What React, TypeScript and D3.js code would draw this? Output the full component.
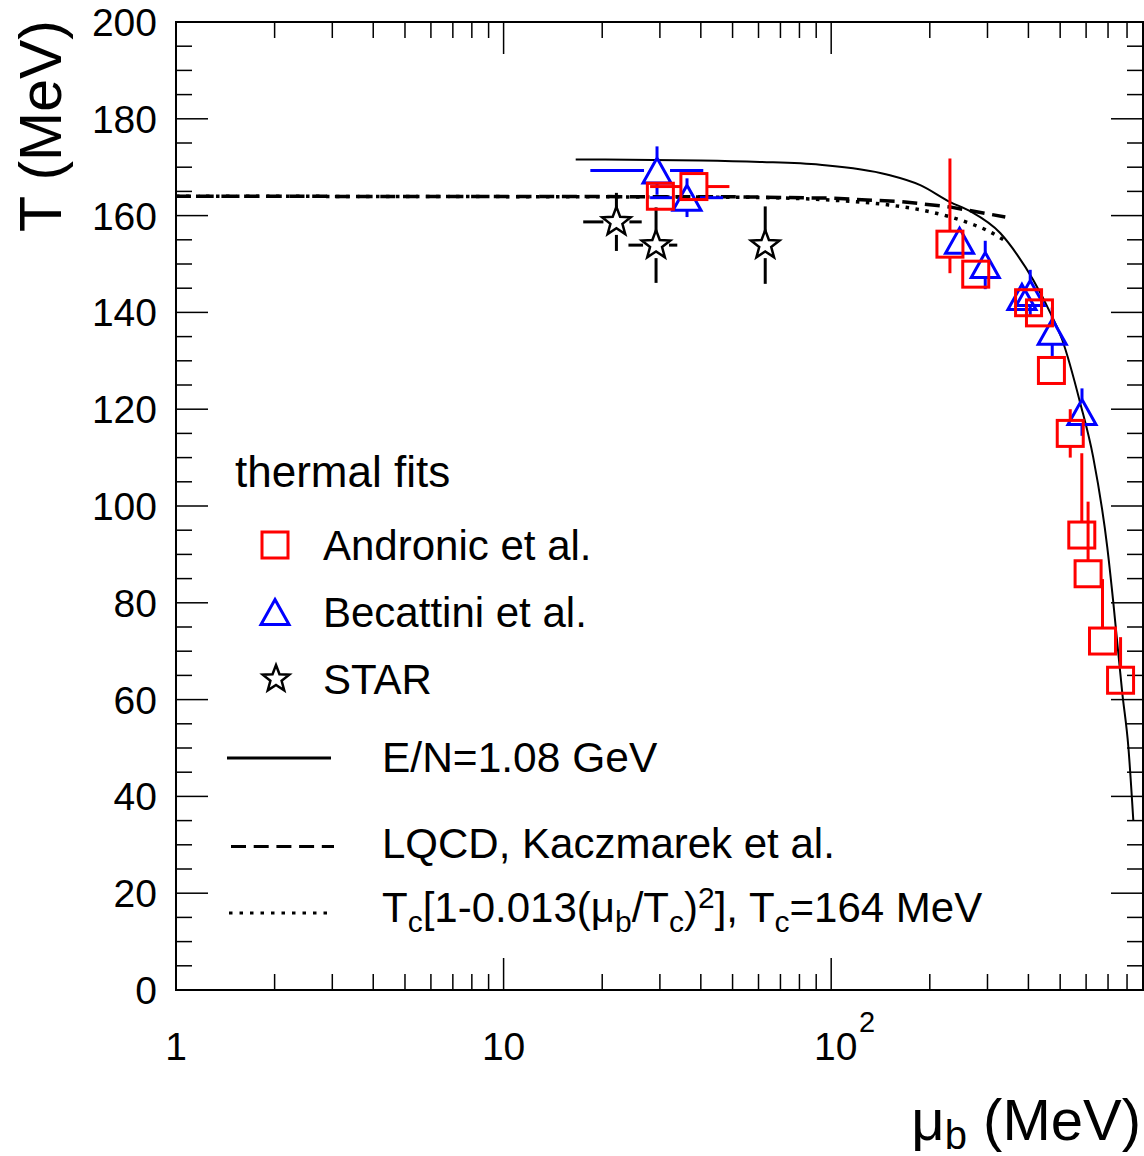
import React from "react";
import * as d3 from "d3";

// ---------- data ----------
const andronicMu = [30.1, 38.1, 230.4, 276.2, 400.4, 432.3, 470.2, 536.7, 582.1, 608.4, 673.3, 764.4];
const andronicT = [164.0, 166.0, 154.1, 147.9, 142.0, 139.9, 128.0, 115.0, 94.0, 86.0, 72.1, 64.0];
const andronicTErrLo = [0, 0, 6.0, 0, 0, 0, 0, 5, 0, 0, 0, 0];
const andronicTErrHi = [0, 0, 17.7, 0, 0, 0, 0, 5, 16.9, 14.9, 12.8, 8.9];
const andronicMuLo = [null, 28.0, null, null, null, null, null, null, null, null, null, null];
const andronicMuHi = [null, 48.9, null, null, null, null, null, null, null, null, null, null];

const becattiniMu = [29.4, 36.3, 246.5, 295.3, 382.2, 405.1, 472.9, 582.9];
const becattiniT = [169.3, 163.7, 154.8, 149.8, 143.2, 144.0, 136.0, 119.4];
const becattiniTErr = [5, 4, 0, 5, 0, 4.8, 5, 4.9];
const becattiniMuLo = [18.4, 28.0, null, null, null, null, null, null];
const becattiniMuHi = [40.7, 46.8, null, null, null, null, null, null];

const starMu = [22.1, 29.2, 62.9];
const starT = [158.7, 153.9, 153.9];
const starTErr = [6, 7.8, 8];
const starMuLo = [17.5, 24.05, null];
const starMuHi = [26.4, 33.9, null];

const solidMu = [16.6, 40, 60.7, 92.5, 147.9, 187, 230.9, 265.7, 328, 369.8, 413.8, 466.6, 507.5, 575.6, 630.6, 696.2, 726.6, 773.6, 807.5, 836];
const solidT = [171.6, 171.4, 171.1, 170.5, 168.5, 166.3, 162.8, 160.9, 156.4, 151.9, 146.7, 139.9, 134.3, 121.3, 110.1, 91.5, 80, 61.4, 50.2, 35.1];

const lqcdMu = [1, 50, 100, 163, 230, 340];
const lqcdT = [164, 163.9, 163.6, 162.9, 161.8, 159.7];

const dottedMu = [1, 50, 100, 150, 200, 250, 300, 340];
const dottedT = [164, 163.8, 163.2, 162.2, 160.8, 159.0, 156.9, 154.8];

const yMajorTicks = [0, 20, 40, 60, 80, 100, 120, 140, 160, 180, 200];
const xMajorTicks = [1, 10, 100];

// ---------- layout ----------
const W = 1144, H = 1156;
const L = 176, R = 1143, T = 22, B = 990;
const x = d3.scaleLog().domain([1, 895]).range([L, R]);
const y = d3.scaleLinear().domain([0, 200]).range([B, T]);
const FONT = "Liberation Sans, Arial, Helvetica, sans-serif";
const MS = 13; // half marker size

function starPath(cx: number, cy: number, ro: number, ri: number) {
  const pts: string[] = [];
  for (let i = 0; i < 10; i++) {
    const r = i % 2 === 0 ? ro : ri;
    const a = -Math.PI / 2 + (i * Math.PI) / 5;
    pts.push(`${cx + r * Math.cos(a)},${cy + r * Math.sin(a)}`);
  }
  return "M" + pts.join("L") + "Z";
}

function triPath(cx: number, cy: number) {
  return `M${cx},${cy - 12.5}L${cx + 14},${cy + 12.5}L${cx - 14},${cy + 12.5}Z`;
}

function ErrBars(props: { mu: number; t: number; lo: number; hi: number; mlo: number | null; mhi: number | null; color: string; gap: number }) {
  const { mu, t, lo, hi, mlo, mhi, color, gap } = props;
  const cx = x(mu), cy = y(t);
  const segs: any[] = [];
  if (hi > 0 && cy - y(t + hi) > gap) segs.push(<line key="h" x1={cx} x2={cx} y1={cy - gap} y2={y(t + hi)} />);
  if (lo > 0 && y(t - lo) - cy > gap) segs.push(<line key="l" x1={cx} x2={cx} y1={cy + gap} y2={y(t - lo)} />);
  if (mlo != null && cx - x(mlo) > gap) segs.push(<line key="ml" x1={cx - gap} x2={x(mlo)} y1={cy} y2={cy} />);
  if (mhi != null && x(mhi) - cx > gap) segs.push(<line key="mh" x1={cx + gap} x2={x(mhi)} y1={cy} y2={cy} />);
  return <g stroke={color} strokeWidth={3}>{segs}</g>;
}

export default function App() {
  const lineGen = d3.line<[number, number]>().x((d) => x(d[0])).y((d) => y(d[1]));
  const smoothGen = d3.line<[number, number]>().x((d) => x(d[0])).y((d) => y(d[1])).curve(d3.curveMonotoneX);
  const solidPath = smoothGen(solidMu.map((m, i) => [m, solidT[i]]))!;
  const lqcdPath = lineGen(lqcdMu.map((m, i) => [m, lqcdT[i]]))!;
  const dottedPath = smoothGen(dottedMu.map((m, i) => [m, dottedT[i]]))!;

  const yMinor = d3.range(0, 201, 5).filter((v) => v % 20 !== 0);
  const xMinor: number[] = [];
  [1, 10, 100].forEach((d) => {
    for (let k = 2; k <= 9; k++) if (k * d < 895) xMinor.push(k * d);
  });

  return (
    <div style={{ position: "absolute", left: 0, top: 0 }}>
      <svg width={W} height={H} style={{ display: "block", background: "#fff" }} fontFamily={FONT}>
        <rect x={0} y={0} width={W} height={H} fill="#fff" />
        {/* ticks */}
        <g stroke="#000" strokeWidth={1.5}>
          {yMajorTicks.map((v) => (
            <g key={"ym" + v}>
              <line x1={L} x2={L + 32} y1={y(v)} y2={y(v)} />
              <line x1={R} x2={R - 32} y1={y(v)} y2={y(v)} />
            </g>
          ))}
          {yMinor.map((v) => (
            <g key={"yn" + v}>
              <line x1={L} x2={L + 16} y1={y(v)} y2={y(v)} />
              <line x1={R} x2={R - 16} y1={y(v)} y2={y(v)} />
            </g>
          ))}
          {xMajorTicks.map((v) => (
            <g key={"xm" + v}>
              <line x1={x(v)} x2={x(v)} y1={B} y2={B - 32} />
              <line x1={x(v)} x2={x(v)} y1={T} y2={T + 32} />
            </g>
          ))}
          {xMinor.map((v) => (
            <g key={"xn" + v}>
              <line x1={x(v)} x2={x(v)} y1={B} y2={B - 16} />
              <line x1={x(v)} x2={x(v)} y1={T} y2={T + 16} />
            </g>
          ))}
        </g>
        {/* frame */}
        <rect x={L} y={T} width={R - L} height={B - T} fill="none" stroke="#000" strokeWidth={2} />

        {/* tick labels */}
        <g fontSize={39} fill="#000">
          {yMajorTicks.map((v) => (
            <text key={"yl" + v} x={157} y={y(v) + 14} textAnchor="end">{v}</text>
          ))}
          <text x={x(1)} y={1060} textAnchor="middle">1</text>
          <text x={x(10)} y={1060} textAnchor="middle">10</text>
          <text x={814} y={1060}>10</text>
          <text x={859} y={1032} fontSize={29}>2</text>
        </g>

        {/* axis titles */}
        <text transform="translate(61,20) rotate(-90)" textAnchor="end" fontSize={59}>T (MeV)</text>
        <text x={1141} y={1140} textAnchor="end" fontSize={58}>
          μ<tspan fontSize={40} dy={9}>b</tspan><tspan dy={-9}> (MeV)</tspan>
        </text>

        {/* curves */}
        <path d={lqcdPath} fill="none" stroke="#000" strokeWidth={3.5} strokeDasharray="15 7.7" />
        <path d={dottedPath} fill="none" stroke="#000" strokeWidth={3.5} strokeDasharray="3.5 6.5" />
        <path d={solidPath} fill="none" stroke="#000" strokeWidth={2} />

        {/* STAR */}
        {starMu.map((m, i) => (
          <ErrBars key={"se" + i} mu={m} t={starT[i]} lo={starTErr[i]} hi={starTErr[i]} mlo={starMuLo[i]} mhi={starMuHi[i]} color="#000" gap={MS} />
        ))}
        {starMu.map((m, i) => (
          <path key={"s" + i} d={starPath(x(m), y(starT[i]), 15, 6.3)} fill="#fff" stroke="#000" strokeWidth={2.5} strokeLinejoin="miter" />
        ))}

        {/* Becattini */}
        {becattiniMu.map((m, i) => (
          <ErrBars key={"be" + i} mu={m} t={becattiniT[i]} lo={becattiniTErr[i]} hi={becattiniTErr[i]} mlo={becattiniMuLo[i]} mhi={becattiniMuHi[i]} color="#0000ff" gap={MS} />
        ))}
        {becattiniMu.map((m, i) => (
          <path key={"b" + i} d={triPath(x(m), y(becattiniT[i]))} fill="none" stroke="#0000ff" strokeWidth={3} />
        ))}

        {/* Andronic */}
        {andronicMu.map((m, i) => (
          <ErrBars key={"ae" + i} mu={m} t={andronicT[i]} lo={andronicTErrLo[i]} hi={andronicTErrHi[i]} mlo={andronicMuLo[i]} mhi={andronicMuHi[i]} color="#ff0000" gap={MS} />
        ))}
        {andronicMu.map((m, i) => (
          <rect key={"a" + i} x={x(m) - MS} y={y(andronicT[i]) - MS} width={2 * MS} height={2 * MS} fill="none" stroke="#ff0000" strokeWidth={3} />
        ))}

        {/* legend */}
        <text x={235} y={487} fontSize={44}>thermal fits</text>
        <rect x={275 - MS} y={545 - MS} width={2 * MS} height={2 * MS} fill="none" stroke="#ff0000" strokeWidth={3} />
        <text x={323} y={560} fontSize={42}>Andronic et al.</text>
        <path d={triPath(275, 612)} fill="none" stroke="#0000ff" strokeWidth={3} />
        <text x={323} y={627} fontSize={42}>Becattini et al.</text>
        <path d={starPath(276, 679, 14, 5.9)} fill="#fff" stroke="#000" strokeWidth={2.5} />
        <text x={323} y={694} fontSize={42}>STAR</text>

        <line x1={227} x2={331} y1={758} y2={758} stroke="#000" strokeWidth={3} />
        <text x={382} y={772} fontSize={42.5}>E/N=1.08 GeV</text>
        <line x1={231} x2={334} y1={846.5} y2={846.5} stroke="#000" strokeWidth={3} strokeDasharray="15 7.7" />
        <text x={382} y={858} fontSize={42}>LQCD, Kaczmarek et al.</text>
        <line x1={229} x2={334} y1={913} y2={913} stroke="#000" strokeWidth={3} strokeDasharray="3.5 7" />
        <text x={382} y={922} fontSize={42}>
          T<tspan fontSize={30} dy={10}>c</tspan>
          <tspan dy={-10}>[1-0.013(μ</tspan>
          <tspan fontSize={30} dy={10}>b</tspan>
          <tspan dy={-10}>/T</tspan>
          <tspan fontSize={30} dy={10}>c</tspan>
          <tspan dy={-10}>)</tspan>
          <tspan fontSize={30} dy={-14}>2</tspan>
          <tspan dy={14}>], T</tspan>
          <tspan fontSize={30} dy={10}>c</tspan>
          <tspan dy={-10}>=164 MeV</tspan>
        </text>
      </svg>
    </div>
  );
}
